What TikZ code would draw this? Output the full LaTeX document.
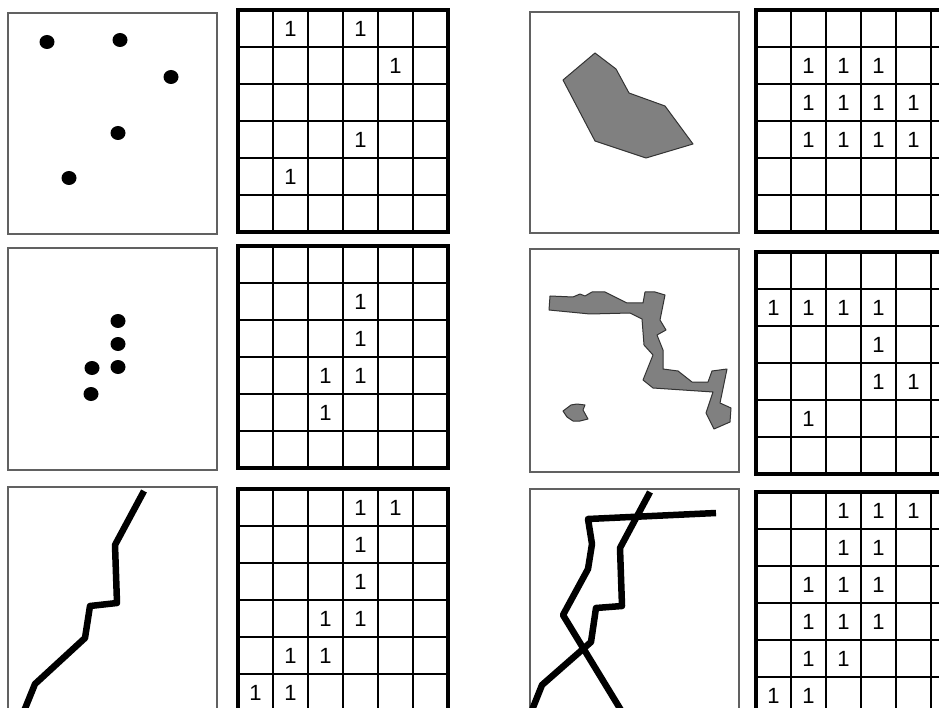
\documentclass[tikz,border=0pt]{standalone}
\usepackage{fontspec}
\setmainfont{Liberation Sans}
\newfontfamily\digitfont[Scale=1.0]{Liberation Sans}
\tikzset{
  panel/.style={draw=black!62, line width=1.1pt},
  gridthin/.style={draw=black, line width=1.25pt},
  gridthick/.style={draw=black, line width=3.4pt, line join=miter},
  one/.style={font=\digitfont\fontsize{22}{22}\selectfont, inner sep=0pt},
  dot/.style={fill=black},
  blob/.style={fill=black!50, draw=black!80, line width=1pt, line join=round},
  track/.style={draw=black, line width=6.5pt, line join=round}
}
\newcommand{\mygrid}[4]{%
  \begin{scope}[shift={(#1,#2)}]
    \foreach \i in {1,...,5} {
      \draw[gridthin] (\i*35,0) -- (\i*35,222);
      \draw[gridthin] (0,\i*37) -- (210,\i*37);
    }
    \draw[gridthick] (0,0) rectangle (210,222);
    \foreach \r/\c in {#4} \node[one] (#3-\r-\c) at (\c*35+17.5, \r*37+18.5) {1};
  \end{scope}}
\begin{document}
\begin{tikzpicture}[x=1pt,y=-1pt]
  \useasboundingbox (0,0) rectangle (939,708);
  \clip (0,0) rectangle (939,708);
  % panels
  \draw[panel] (8,13) rectangle (217,234);
  \draw[panel] (8,248) rectangle (217,470);
  \draw[panel] (8,487) rectangle (217,730);
  \draw[panel] (530,12) rectangle (739,233);
  \draw[panel] (530,249) rectangle (739,472);
  \draw[panel] (530,489) rectangle (739,730);
  % dots row 1
  \foreach \x/\y in {47/42,120/40,171/77,118/133,69/178}
    \fill[dot] (\x,\y) ellipse [x radius=7.5, y radius=7];
  % dots row 2
  \foreach \x/\y in {118/321,118/344,118/367,92/368,91/394}
    \fill[dot] (\x,\y) ellipse [x radius=7.5, y radius=7];
  % line row 3 left
  \draw[track] (144,491) -- (115,545) -- (117,603) -- (90,606) -- (85,638) -- (35,684) -- (22,716);
  % polygon row 1 right
  \draw[blob] (563,80) -- (595,53) -- (616,69) -- (629,93) -- (665,106) -- (693,144) -- (646,158) -- (595,141) -- cycle;
  % polygon row 2 right
  \draw[blob] (550,296) -- (573,297) -- (580,294) -- (585,296) -- (592,292) -- (605,292) -- (627,303) -- (643,303) -- (645,292) -- (655,292) -- (665,295) -- (660,320) -- (666,330) -- (657,335) -- (663,350) -- (663,369) -- (678,371) -- (692,382) -- (708,382) -- (712,371) -- (727,369) -- (720,403) -- (731,408) -- (730,422) -- (714,429) -- (706,413) -- (713,392) -- (653,388) -- (643,380) -- (653,355) -- (644,345) -- (642,319) -- (630,313) -- (590,314) -- (549,310) -- cycle;
  \draw[blob] (563,411) -- (571,405) -- (577,404) -- (585,405) -- (583,410) -- (588,419) -- (580,421) -- (573,421) -- (567,417) -- cycle;
  % lines row 3 right
  \draw[track] (716,513) -- (588,519) -- (592,544) -- (588,569) -- (563,615) -- (627,720);
  \draw[track] (650,492) -- (620,548) -- (622,606) -- (596,608) -- (591,642) -- (542,685) -- (528,720);
  % grids
  \mygrid{238}{10}{ga}{0/1,0/3,1/4,3/3,4/1}
  \mygrid{238}{246}{gb}{1/3,2/3,3/2,3/3,4/2}
  \mygrid{238}{489}{gc}{0/3,0/4,1/3,2/3,3/2,3/3,4/1,4/2,5/0,5/1}
  \mygrid{756}{10}{gd}{1/1,1/2,1/3,2/1,2/2,2/3,2/4,3/1,3/2,3/3,3/4}
  \mygrid{756}{252}{ge}{1/0,1/1,1/2,1/3,2/3,3/3,3/4,4/1}
  \mygrid{756}{492}{gf}{0/2,0/3,0/4,1/2,1/3,2/1,2/2,2/3,3/1,3/2,3/3,4/1,4/2,5/0,5/1}
\end{tikzpicture}
\end{document}
